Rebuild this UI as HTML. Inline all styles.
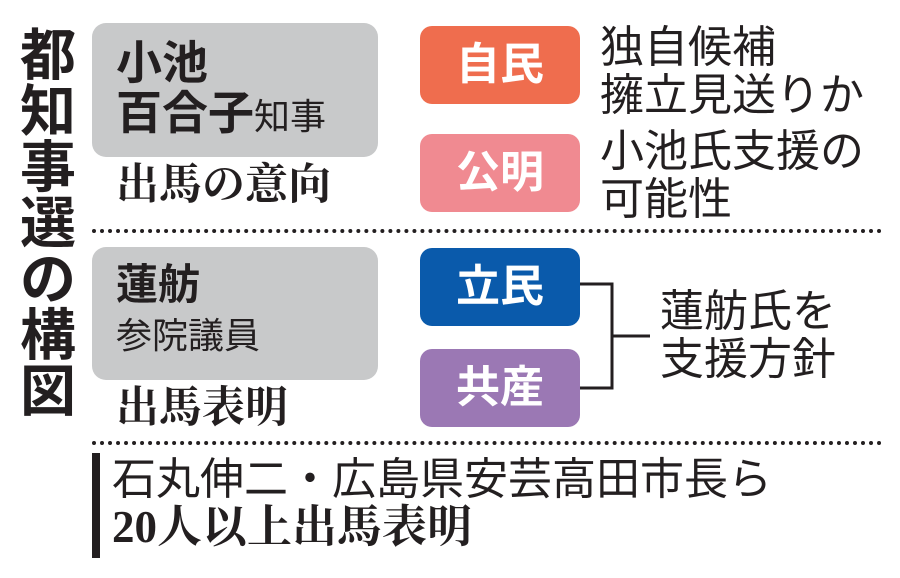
<!DOCTYPE html>
<html><head><meta charset="utf-8"><style>
body{margin:0;width:900px;height:578px;background:#fff;position:relative;overflow:hidden;font-family:"Liberation Sans","Noto Sans CJK JP",sans-serif;color:#231f20}
div{position:absolute}
.t{white-space:nowrap;line-height:1}
.grey{background:#c8c9ca;border-radius:14px}
.p{border-radius:12px;color:#fff;font-weight:bold;font-size:44px;text-align:center;line-height:78px;width:160px;height:78px;left:420px}
.serif{font-family:"Liberation Serif","Noto Serif CJK SC",serif;font-weight:bold}
.dot{left:92px;width:790px;height:0;border-top:4px dotted #231f20}
</style></head><body>
<div class="t" style="left:19px;top:28px;width:58px;font-size:56px;font-weight:bold;line-height:56px;white-space:normal;text-align:center">都知事選の構図</div>
<div class="grey" style="left:92px;top:23px;width:286px;height:134px"></div>
<div class="t" style="left:116px;top:40px;font-size:46px;font-weight:bold">小池</div>
<div class="t" style="left:116px;top:90px;font-size:46px;font-weight:bold">百合子<span style="font-size:36px;font-weight:normal">知事</span></div>
<div class="t serif" style="left:116px;top:164px;font-size:43px">出馬の意向</div>
<div class="dot" style="top:229px"></div>
<div class="grey" style="left:92px;top:247px;width:286px;height:133px"></div>
<div class="t" style="left:116px;top:264px;font-size:42px;font-weight:bold">蓮舫</div>
<div class="t" style="left:116px;top:318px;font-size:36px">参院議員</div>
<div class="t serif" style="left:116px;top:387px;font-size:43px">出馬表明</div>
<div class="dot" style="top:441px"></div>
<div class="p" style="top:26px;background:#ef6d4e">自民</div>
<div class="p" style="top:134px;background:#f08a91">公明</div>
<div class="p" style="top:248px;background:#0a5aab">立民</div>
<div class="p" style="top:349px;background:#9b78b4">共産</div>
<div class="t" style="left:600px;top:24px;font-size:44px;line-height:48px">独自候補<br>擁立見送りか</div>
<div class="t" style="left:600px;top:128px;font-size:44px;line-height:48px">小池氏支援の<br>可能性</div>
<svg style="position:absolute;left:0;top:0" width="900" height="578"><path d="M580 284H612V388H580M612 336H650" fill="none" stroke="#231f20" stroke-width="3"/><rect x="92" y="453" width="8" height="105" fill="#231f20"/></svg>
<div class="t" style="left:660px;top:288px;font-size:44px;line-height:48px">蓮舫氏を<br>支援方針</div>
<div class="t" style="left:112px;top:458px;font-size:44px">石丸伸二・広島県安芸高田市長ら</div>
<div class="t serif" style="left:112px;top:505px;font-size:45px">20人以上出馬表明</div>
</body></html>
